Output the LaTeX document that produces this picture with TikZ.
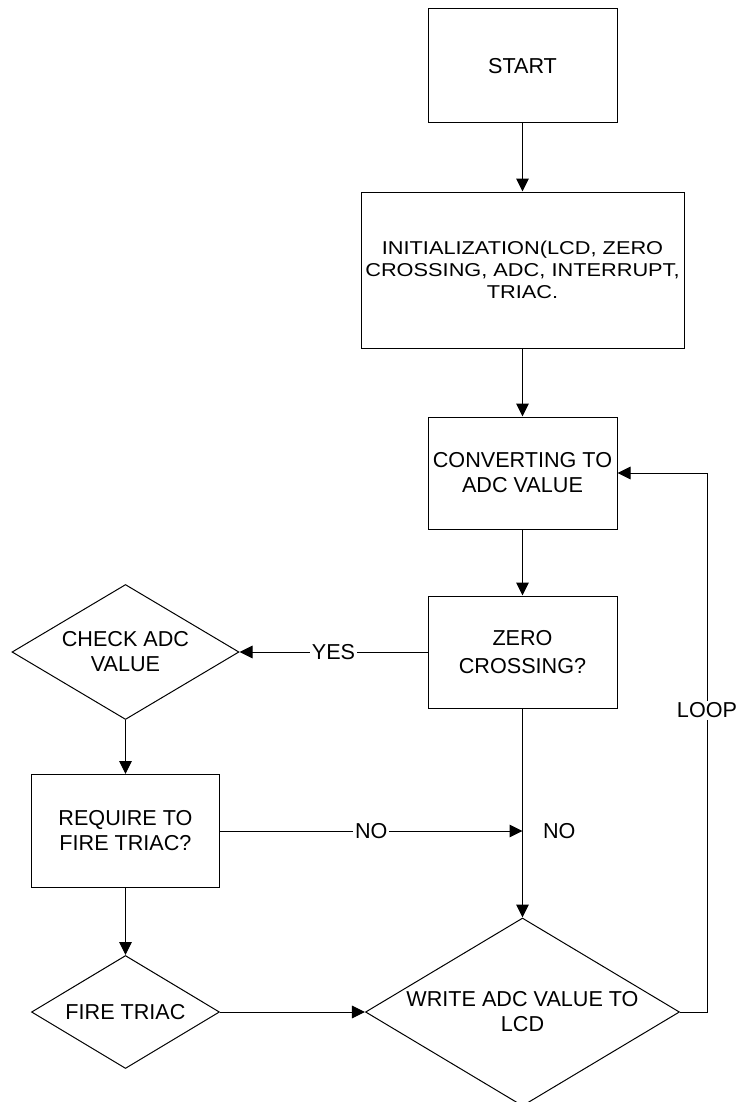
\documentclass[tikz,border=0pt]{standalone}
\usepackage{fontspec}
\setmainfont{Liberation Sans}
\newfontfamily\widefont[FakeStretch=1.17]{Liberation Sans}
\usetikzlibrary{shapes,arrows.meta,positioning,calc}
\tikzstyle{line} = [draw, -{Triangle[length=6.5pt,width=6.3pt]}]
\tikzstyle{box} = [draw, rectangle, align=center, inner sep=0pt]
\tikzstyle{decision} = [draw, diamond, align=center, inner sep=0pt]
\tikzstyle{lbl} = [fill=white, inner sep=1pt]

\begin{document}
\begin{tikzpicture}[line width=0.5pt, font=\fontsize{10.8pt}{12.5pt}\selectfont]
\useasboundingbox (0,0) rectangle (369pt,-551pt);

  \node [box, minimum width=94.5pt, minimum height=57pt] (start) at (261.25pt,-33pt) {START};

  \node [box, minimum width=161.5pt, minimum height=78pt, below=34pt of start,
  font=\widefont\fontsize{9.3pt}{10.85pt}\selectfont]
  (init) {INITIALIZATION(LCD, ZERO\\CROSSING, ADC, INTERRUPT,\\TRIAC.};

  \node [box, minimum width=94.5pt, minimum height=56pt, below=34pt of init]
  (conv) {CONVERTING TO\\ADC VALUE};

  \node [box, minimum width=94.5pt, minimum height=56pt, below=33pt of conv,
  font=\fontsize{10.8pt}{14pt}\selectfont]
  (zero) {ZERO\\CROSSING?};

  \node [decision, aspect=1.68, minimum width=113.5pt, minimum height=67.5pt, left=94pt of zero]
  (check) {CHECK ADC\\VALUE};

  \node [box, minimum width=94pt, minimum height=56.5pt, below=27pt of check]
  (require) {REQUIRE TO\\FIRE TRIAC?};

  \node [decision, aspect=1.66, minimum width=94pt, minimum height=56.5pt, below=33.5pt of require]
  (fire) {FIRE TRIAC};

  \node [decision, aspect=1.67, minimum width=157pt, minimum height=94pt] (write) at (zero |- fire)
  {WRITE ADC VALUE TO\\LCD};

  \path [line] (start) -- (init);
  \path [line] (init) -- (conv);
  \path [line] (conv) -- (zero);
  \path [line] (zero) -- node[lbl] (yes) {YES} (check);
  \path [line] (zero) -- (write);
  \path [line] (check) -- (require);
  \path [line] (require) -- (fire);
  \path [line] (require) -- node[lbl] (no) {NO} (require-|zero);
  \node [right=9pt, inner sep=1pt] (no2) at (require-|zero) {NO};
  \path [line] (fire) -- (write);
  \path [line] (write.east) -- ++(13.5pt,0) coordinate (lc) |- node[pos=0.28, lbl] (loop) {LOOP} (conv.east);

\end{tikzpicture}
\end{document}
